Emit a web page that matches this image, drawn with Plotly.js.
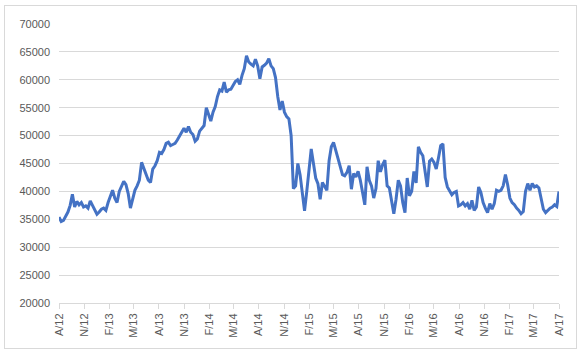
<!DOCTYPE html>
<html>
<head>
<meta charset="utf-8">
<script src="https://cdn.plot.ly/plotly-3.0.1.min.js"></script>
<style>
  html, body { margin: 0; padding: 0; background: #ffffff; }
  #wrap { position: relative; width: 584px; height: 355px; }
  #chart { width: 584px; height: 355px; }
  #frame { position: absolute; left: 4px; top: 5px; width: 571px; height: 342px;
           border: 1px solid #d9d9d9; pointer-events: none; }
</style>
</head>
<body>
<div id="wrap">
  <div id="chart"></div>
  <div id="frame"></div>
</div>
<script>
// Series start / end (evenly spaced samples between them)
const startDate = "2012-08-01";
const endDate = "2017-08-01";

// Values, evenly spaced in time
const values = [
  35400, 34600, 34800, 35500, 36300, 37500, 39500, 37200, 38200, 37600,
  38000, 37200, 37400, 37000, 38300, 37500, 36600, 35900, 36300, 36800,
  37000, 36600, 38000, 39000, 40200, 38800, 38000, 40000, 41000, 41800,
  41200, 39600, 37000, 38500, 40200, 41000, 42000, 45200, 44000, 43000,
  42000, 41600, 44000, 44600, 45500, 47000, 46800, 47500, 48600, 48800,
  48200, 48400, 48600, 49200, 50000, 50800, 51300, 50600, 51600, 50600,
  50200, 49000, 49400, 50800, 51300, 51800, 55000, 53600, 52600, 54200,
  55200, 57000, 58200, 58000, 59600, 57800, 58200, 58300, 59000, 59700,
  60000, 59200, 60800, 62000, 64300, 63200, 62800, 62500, 63700, 62500,
  60200, 62300, 62600, 63000, 63800, 62500, 62000, 60400, 57000, 54600,
  56200, 54200, 53400, 53000, 50000, 40500, 41000, 45000, 43000, 39500,
  36500, 40000, 43500, 47600, 45000, 42400, 41400, 38600, 41600, 41000,
  40200, 45500, 48000, 48800, 47400, 45600, 44400, 43000, 42800, 43400,
  44600, 40400, 43200, 42600, 43600, 42000, 39800, 37600, 44400, 42000,
  41000, 38800, 40500, 45500, 43500, 44800, 45600, 41000, 40600, 38000,
  36000, 38600, 42000, 41000, 38000, 36200, 42400, 39200, 40000, 43600,
  41500, 48000, 47000, 46400, 43600, 40800, 45400, 45800, 45200, 44000,
  46000, 48200, 48500, 42500, 40800, 40000, 39400, 39800, 40000, 37400,
  37600, 38000, 37400, 37800, 36800, 38400, 36600, 37200, 40800, 39800,
  38000, 37000, 36200, 37800, 36800, 37800, 40200, 40000, 40200, 41000,
  43000, 41200, 38800, 38000, 37600, 37000, 36600, 36000, 36400, 40000,
  41400, 40200, 41400, 40800, 41000, 40600, 38400, 36800, 36200, 36600,
  37000, 37200, 37600, 37300, 40000
];

// Tick months and labels
const tickDates = [
  "2012-08-01", "2012-11-01", "2013-02-01", "2013-05-01", "2013-08-01",
  "2013-11-01", "2014-02-01", "2014-05-01", "2014-08-01", "2014-11-01",
  "2015-02-01", "2015-05-01", "2015-08-01", "2015-11-01", "2016-02-01",
  "2016-05-01", "2016-08-01", "2016-11-01", "2017-02-01", "2017-05-01",
  "2017-08-01"
];
const tickLabels = [
  "A/12", "N/12", "F/13", "M/13", "A/13", "N/13", "F/14", "M/14", "A/14", "N/14",
  "F/15", "M/15", "A/15", "N/15", "F/16", "M/16", "A/16", "N/16", "F/17", "M/17", "A/17"
];

const t0 = Date.parse(startDate + "T00:00:00Z");
const t1 = Date.parse(endDate + "T00:00:00Z");
const step = (t1 - t0) / (values.length - 1);
const dates = values.map((v, i) => new Date(t0 + i * step).toISOString().slice(0, 19).replace("T", " "));

const font = { family: "Liberation Sans, Arial, sans-serif", size: 11, color: "#595959" };

Plotly.newPlot("chart", [{
  type: "scatter",
  mode: "lines",
  x: dates,
  y: values,
  line: { color: "#4472C4", width: 3 },
  hoverinfo: "skip"
}], {
  width: 584,
  height: 355,
  margin: { l: 59, r: 25, t: 24, b: 52 },
  paper_bgcolor: "#ffffff",
  plot_bgcolor: "#ffffff",
  showlegend: false,
  font: font,
  xaxis: {
    type: "date",
    range: [startDate, endDate],
    tickmode: "array",
    tickvals: tickDates,
    ticktext: tickLabels,
    tickangle: -90,
    ticks: "outside",
    ticklen: 5,
    tickcolor: "#d9d9d9",
    showgrid: false,
    showline: true,
    linecolor: "#d9d9d9",
    linewidth: 1,
    zeroline: false,
    tickfont: font
  },
  yaxis: {
    range: [20000, 70000],
    dtick: 5000,
    tick0: 20000,
    tickformat: "d",
    showgrid: true,
    gridcolor: "#d9d9d9",
    gridwidth: 1,
    zeroline: false,
    showline: false,
    ticks: "",
    ticklabelstandoff: 8,
    tickfont: font
  }
}, { staticPlot: true, displayModeBar: false });
</script>
</body>
</html>
